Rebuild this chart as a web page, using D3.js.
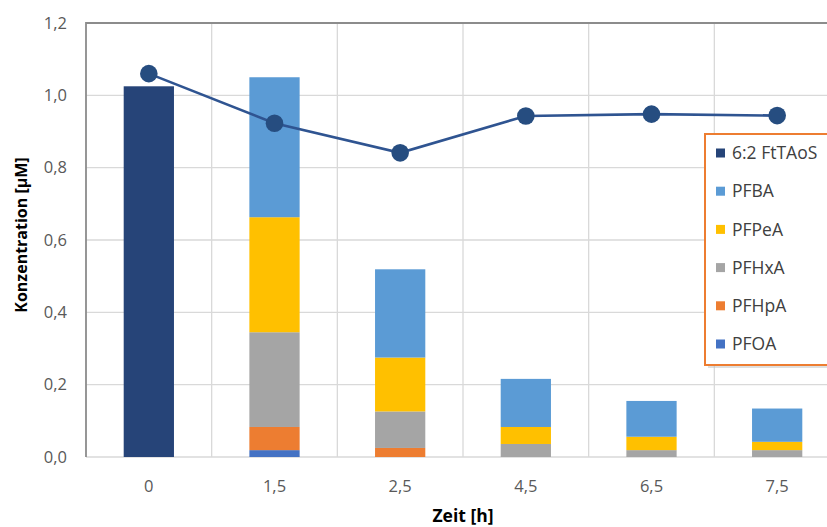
<!DOCTYPE html>
<html><head><meta charset="utf-8">
<script src="https://cdn.jsdelivr.net/npm/d3@7"></script>
<style>body{margin:0;background:#fff}svg{display:block}text{font-family:"Open Sans",sans-serif}</style>
</head><body><svg id="c" width="827" height="527"></svg>
<script>
const categories = ["0","1,5","2,5","4,5","6,5","7,5"];
const seriesNames = ["PFOA","PFHpA","PFHxA","PFPeA","PFBA","6:2 FtTAoS"];
const PFOA  = [0, 0.019, 0, 0, 0, 0];
const PFHpA = [0, 0.064, 0.025, 0, 0, 0];
const PFHxA = [0, 0.262, 0.101, 0.036, 0.019, 0.019];
const PFPeA = [0, 0.318, 0.149, 0.047, 0.037, 0.023];
const PFBA  = [0, 0.387, 0.244, 0.133, 0.099, 0.092];
const FtTAoS = [1.025, 0, 0, 0, 0, 0];
const total = [1.06, 0.923, 0.841, 0.943, 0.948, 0.944];
const yTicks = [0,0.2,0.4,0.6,0.8,1.0,1.2];
const colors = {"PFOA":"#4472C4","PFHpA":"#ED7D31","PFHxA":"#A5A5A5","PFPeA":"#FFC000","PFBA":"#5B9BD5","6:2 FtTAoS":"#264478"};
const legendOrder = ["6:2 FtTAoS","PFBA","PFPeA","PFHxA","PFHpA","PFOA"];

const valuesBy = {"PFOA":PFOA,"PFHpA":PFHpA,"PFHxA":PFHxA,"PFPeA":PFPeA,"PFBA":PFBA,"6:2 FtTAoS":FtTAoS};
const rows = categories.map((c,i)=>{const r={cat:c};seriesNames.forEach(s=>r[s]=valuesBy[s][i]);return r;});

const svg = d3.select("#c");
const L=86, R=840, T=23, B=457;
const x = d3.scaleBand().domain(categories).range([L,R]).paddingInner(0.6).paddingOuter(0.3);
const y = d3.scaleLinear().domain([0,1.2]).range([B,T]);
const fmt = d => d.toFixed(1).replace(".",",");

// gridlines
svg.append("g").selectAll("line").data(yTicks.slice(1,-1)).join("line")
  .attr("x1",L).attr("x2",R).attr("y1",d=>y(d)).attr("y2",d=>y(d))
  .attr("stroke","#d9d9d9").attr("stroke-width",1.3);
const step = x.step();
const bounds = categories.slice(1).map(c=>x(c)-step*x.paddingInner()/2);
svg.append("g").selectAll("line").data(bounds).join("line")
  .attr("x1",d=>d).attr("x2",d=>d).attr("y1",T).attr("y2",B)
  .attr("stroke","#d9d9d9").attr("stroke-width",1.3);
svg.append("line").attr("x1",L).attr("x2",R).attr("y1",B).attr("y2",B).attr("stroke","#d9d9d9").attr("stroke-width",1.5);
svg.append("path").attr("d",`M${L},${B}V${T}H${R}`).attr("fill","none").attr("stroke","#8c8c8c").attr("stroke-width",1.8);

// stacked bars
const stack = d3.stack().keys(seriesNames)(rows);
svg.append("g").selectAll("g").data(stack).join("g").attr("fill",d=>colors[d.key])
  .selectAll("rect").data(d=>d).join("rect")
  .attr("x",d=>x(d.data.cat)).attr("width",x.bandwidth())
  .attr("y",d=>y(d[1])).attr("height",d=>Math.max(0,y(d[0])-y(d[1])));

// line
const cx = c => x(c)+x.bandwidth()/2;
svg.append("path").datum(total.map((v,i)=>[categories[i],v]))
  .attr("d",d3.line().x(d=>cx(d[0])).y(d=>y(d[1])))
  .attr("fill","none").attr("stroke","#2F5491").attr("stroke-width",2.6);
svg.append("g").selectAll("circle").data(total.map((v,i)=>[categories[i],v])).join("circle")
  .attr("cx",d=>cx(d[0])).attr("cy",d=>y(d[1])).attr("r",8.8).attr("fill","#264D80");

// axes labels
svg.append("g").selectAll("text").data(yTicks).join("text")
  .attr("x",67).attr("y",d=>y(d)).attr("dy","0.35em").attr("text-anchor","end")
  .attr("font-size",16.5).attr("fill","#595959").text(fmt);
svg.append("g").selectAll("text").data(categories).join("text")
  .attr("x",c=>cx(c)).attr("y",486).attr("dy","0.35em").attr("text-anchor","middle")
  .attr("font-size",16.5).attr("fill","#595959").text(d=>d);
svg.append("text").attr("x",(L+R)/2).attr("y",516).attr("dy","0.35em").attr("text-anchor","middle")
  .attr("font-size",17.5).attr("font-weight","bold").attr("fill","#000").text("Zeit [h]");
svg.append("text").attr("transform",`translate(21,235) rotate(-90)`).attr("dy","0.35em")
  .attr("text-anchor","middle").attr("font-size",16).attr("font-weight","bold").attr("fill","#000").text("Konzentration [µM]");

// legend
const lg = svg.append("g");
lg.append("rect").attr("x",708).attr("y",137).attr("width",160).attr("height",231).attr("fill","#bfbfbf").attr("opacity",0.5);
lg.append("rect").attr("x",705).attr("y",134).attr("width",160).attr("height",231).attr("fill","#fff").attr("stroke","#ED7D31").attr("stroke-width",2);
const ly = d3.scalePoint().domain(legendOrder).range([153,344]);
const items = lg.selectAll("g.it").data(legendOrder).join("g").attr("class","it");
items.append("rect").attr("x",716).attr("y",d=>ly(d)-4.5).attr("width",9).attr("height",9).attr("fill",d=>colors[d]);
items.append("text").attr("x",732).attr("y",d=>ly(d)).attr("dy","0.35em").attr("font-size",17.5).attr("fill","#404040").text(d=>d);
</script></body></html>
